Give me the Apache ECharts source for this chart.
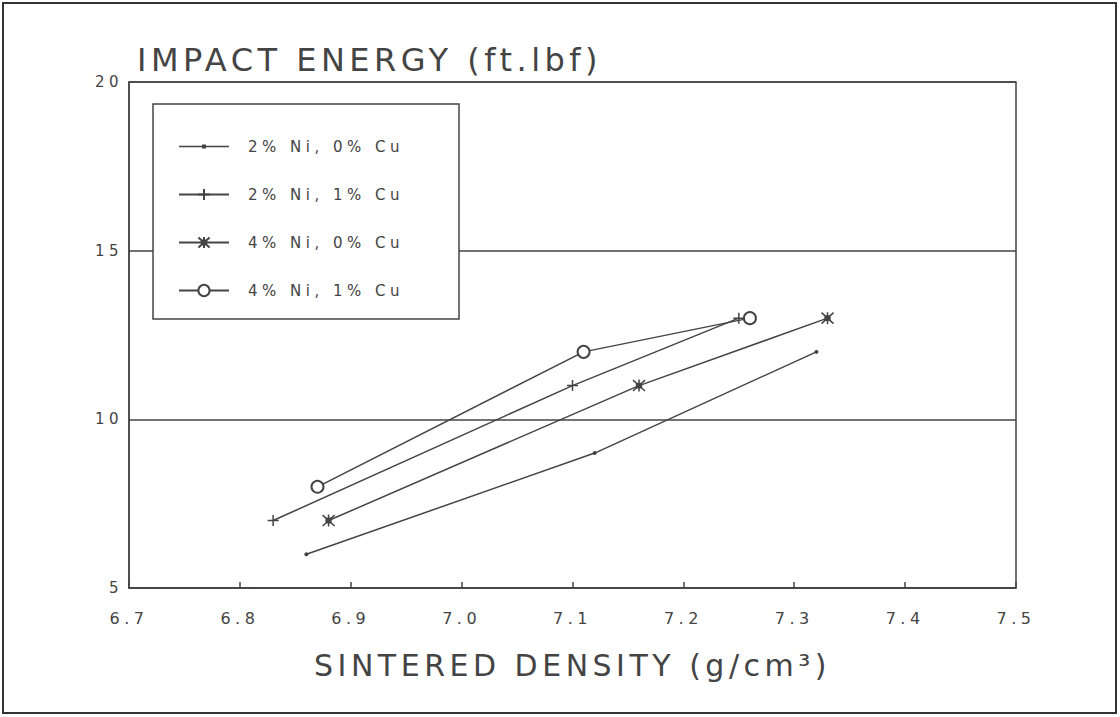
<!DOCTYPE html>
<html>
<head>
<meta charset="utf-8">
<script src="https://cdn.jsdelivr.net/npm/echarts@6/dist/echarts.min.js"></script>
<style>
  html, body { margin:0; padding:0; background:#fff; }
  #chart { width:1120px; height:717px; }
  #chart svg text { letter-spacing: 4.5px; }
</style>
</head>
<body>
<div id="chart"></div>
<script>
// ---- data ----
const seriesNames = ['2% Ni, 0% Cu', '2% Ni, 1% Cu', '4% Ni, 0% Cu', '4% Ni, 1% Cu'];
const density_2Ni0Cu = [6.86, 7.12, 7.32];
const energy_2Ni0Cu  = [6, 9, 12];
const density_2Ni1Cu = [6.83, 7.10, 7.25];
const energy_2Ni1Cu  = [7, 11, 13];
const density_4Ni0Cu = [6.88, 7.16, 7.33];
const energy_4Ni0Cu  = [7, 11, 13];
const density_4Ni1Cu = [6.87, 7.11, 7.26];
const energy_4Ni1Cu  = [8, 12, 13];
const titleText = 'IMPACT ENERGY (ft.lbf)';
const xName = 'SINTERED DENSITY (g/cm³)';

const ink = '#444';
const font = "'DejaVu Sans', sans-serif";

function pairs(xs, ys) { return xs.map((x, i) => [x, ys[i]]); }

const plusPath = 'path://M-10,0H10M0,-10V10';
const starPath = 'path://M-4,-4H4V4H-4Z M-10,-10L10,10 M10,-10L-10,10 M0,-11V11';
const dotLegendIcon = 'path://M0,6.25H50V7.75H0Z M23,5H27V9H23Z';

const chart = echarts.init(document.getElementById('chart'), null, { renderer: 'svg' });

const baseSeries = (name, data, symbol, size, extra) => Object.assign({
  name, type: 'line', data, symbol, symbolSize: size,
  lineStyle: { color: ink, width: 1.5 },
  itemStyle: { color: ink, borderColor: ink, borderWidth: 1.5 },
  emphasis: { disabled: true },
  animation: false
}, extra || {});

chart.setOption({
  animation: false,
  backgroundColor: '#fff',
  textStyle: { fontFamily: font },
  title: {
    text: titleText, left: 132, top: 39,
    textStyle: { fontSize: 32, fontWeight: 'normal', color: ink, fontFamily: font }
  },
  grid: {
    left: 129, right: 104, top: 82, bottom: 129,
    show: true, borderColor: ink, borderWidth: 1.5, backgroundColor: 'transparent'
  },
  xAxis: {
    type: 'value', min: 6.7, max: 7.5, interval: 0.1,
    axisLine: { show: true, lineStyle: { color: ink, width: 1.5 } },
    axisTick: { show: true, inside: true, length: 6, lineStyle: { color: ink, width: 1.5 } },
    splitLine: { show: false },
    axisLabel: { color: ink, fontSize: 16, margin: 22, formatter: v => v.toFixed(1) },
    name: xName,
    nameLocation: 'middle', nameGap: 62,
    nameTextStyle: { fontSize: 30, color: ink, fontFamily: font }
  },
  yAxis: {
    type: 'value', min: 5, max: 20, interval: 5,
    axisLine: { show: true, lineStyle: { color: ink, width: 1.5 } },
    axisTick: { show: false },
    splitLine: { show: true, lineStyle: { color: ink, width: 1.5 } },
    axisLabel: { color: ink, fontSize: 15, margin: 6 }
  },
  legend: {
    orient: 'vertical', left: 178, top: 139, z: 10, padding: 0,
    itemWidth: 50, itemHeight: 14, itemGap: 33,
    selectedMode: false,
    data: [
      { name: seriesNames[0], icon: dotLegendIcon },
      seriesNames[1], seriesNames[2], seriesNames[3]
    ],
    textStyle: { fontSize: 15, color: ink, lineHeight: 14, padding: [0, 0, 0, 14], fontFamily: font }
  },
  graphic: [
    { type: 'rect', z: 5, shape: { x: 153, y: 104, width: 306, height: 215 },
      style: { fill: '#fff', stroke: ink, lineWidth: 1.5 } },
    { type: 'rect', z: 100, shape: { x: 3, y: 3, width: 1113, height: 710 },
      style: { fill: 'none', stroke: '#333', lineWidth: 2 } }
  ],
  series: [
    baseSeries(seriesNames[0], pairs(density_2Ni0Cu, energy_2Ni0Cu), 'circle', 4, { itemStyle: { color: ink, borderWidth: 0 } }),
    baseSeries(seriesNames[1], pairs(density_2Ni1Cu, energy_2Ni1Cu), plusPath, 11),
    baseSeries(seriesNames[2], pairs(density_4Ni0Cu, energy_4Ni0Cu), starPath, 12),
    baseSeries(seriesNames[3], pairs(density_4Ni1Cu, energy_4Ni1Cu), 'emptyCircle', 12, { itemStyle: { color: ink, borderColor: ink, borderWidth: 1.5 } })
  ]
});
</script>
</body>
</html>
